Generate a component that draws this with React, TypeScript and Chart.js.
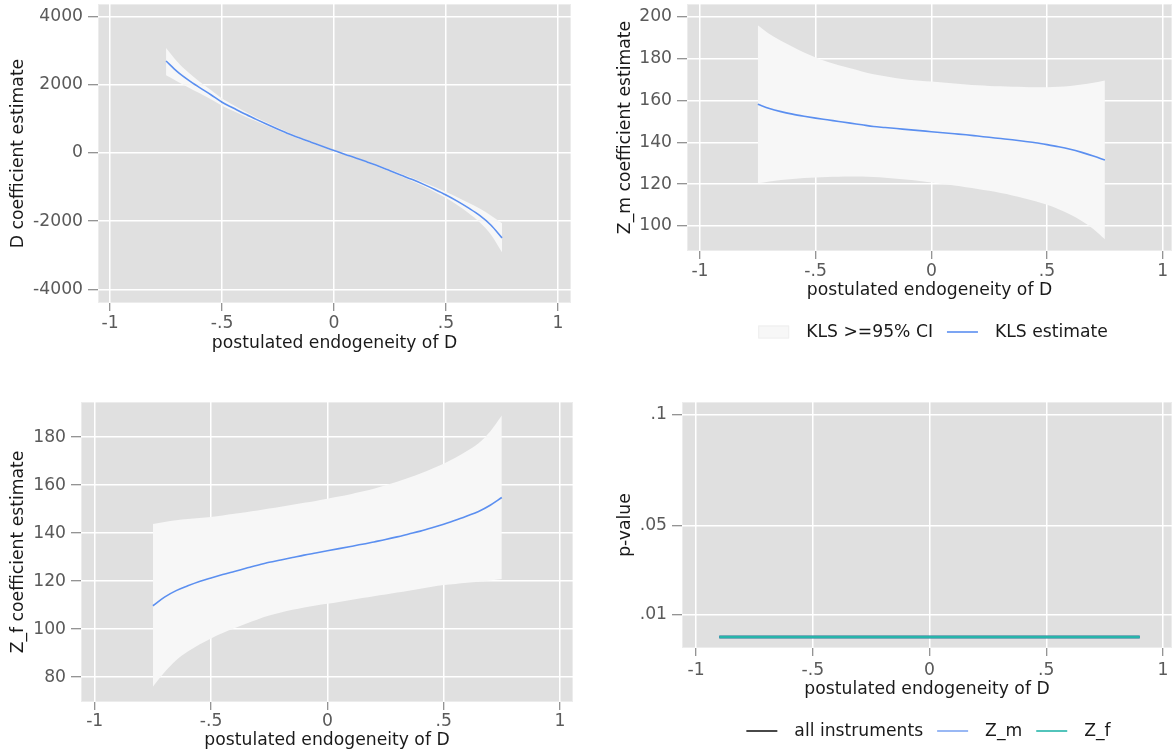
import React, { useEffect, useRef } from 'react';
import { Chart, registerables } from 'chart.js';

Chart.register(...registerables);

const FONT = "'DejaVu Sans', 'Liberation Sans', sans-serif";
const FS = 17.2;
const HALF_LH = FS * 0.6;
const TICK_COLOR = '#5a5a5a';
const TITLE_COLOR = '#1a1a1a';
const BLUE = '#5b8ff0';
const TEAL = '#26b5aa';
const CI_FILL = '#f7f7f7';

// ---------- data ----------
const rhoGrid = [
  -0.75, -0.7, -0.65, -0.6, -0.55, -0.5, -0.45, -0.4, -0.35, -0.3, -0.25, -0.2, -0.15, -0.1, -0.05,
  0, 0.05, 0.1, 0.15, 0.2, 0.25, 0.3, 0.35, 0.4, 0.45, 0.5, 0.55, 0.6, 0.65, 0.7, 0.75,
];

const dEstimate = [
  2700, 2390, 2140, 1920, 1710, 1490, 1320, 1150, 995, 845, 700, 560, 430, 310, 190,
  75, -40, -150, -270, -390, -520, -650, -780, -920, -1070, -1230, -1410, -1610, -1830, -2110, -2490,
];
const dUpper = [
  3080, 2680, 2360, 2090, 1850, 1600, 1410, 1222, 1053, 892, 738, 591, 456, 332, 209,
  92, -23, -132, -250, -366, -491, -614, -735, -863, -998, -1140, -1295, -1460, -1630, -1830, -2060,
];
const dLower = [
  2280, 2100, 1920, 1750, 1575, 1385, 1232, 1080, 938, 799, 662, 529, 404, 288, 171,
  58, -57, -168, -290, -414, -549, -686, -825, -977, -1142, -1320, -1525, -1760, -2030, -2390, -2910,
];

const zmEstimate = [
  158.2, 156.2, 154.7, 153.5, 152.5, 151.6, 150.8, 150.0, 149.2, 148.4, 147.6, 147.1, 146.6, 146.1, 145.6,
  145.1, 144.6, 144.1, 143.6, 143.0, 142.4, 141.8, 141.2, 140.5, 139.8, 138.9, 137.9, 136.7, 135.2, 133.5, 131.5,
];
const zmUpper = [
  196.0, 191.8, 188.6, 185.8, 183.0, 180.6, 178.6, 176.9, 175.4, 173.9, 172.6, 171.6, 170.7, 170.0, 169.5,
  169.1, 168.6, 168.1, 167.7, 167.3, 167.0, 166.8, 166.6, 166.5, 166.4, 166.4, 166.6, 167.0, 167.7, 168.5, 169.6,
];
const zmLower = [
  120.4, 121.3, 122.0, 122.5, 122.9, 123.2, 123.4, 123.5, 123.6, 123.6, 123.4, 123.1, 122.6, 122.1, 121.5,
  120.8, 120.1, 119.3, 118.5, 117.7, 116.8, 115.7, 114.6, 113.3, 111.8, 110.1, 108.0, 105.5, 102.4, 98.5, 93.6,
];

const zfEstimate = [
  109.7, 113.3, 116.0, 118.0, 119.8, 121.3, 122.7, 124.0, 125.3, 126.6, 127.8, 128.8, 129.8, 130.8, 131.7,
  132.6, 133.5, 134.4, 135.3, 136.3, 137.3, 138.4, 139.6, 140.8, 142.2, 143.7, 145.3, 147.1, 149.0, 151.6, 154.8,
];
const zfUpper = [
  143.8, 144.6, 145.3, 145.8, 146.3, 146.7, 147.3, 148.0, 148.7, 149.4, 150.2, 151.0, 151.8, 152.6, 153.4,
  154.3, 155.2, 156.2, 157.3, 158.5, 159.9, 161.4, 163.0, 164.8, 166.8, 168.9, 171.4, 174.2, 177.4, 182.3, 189.0,
];
const zfLower = [
  76.0, 82.0, 87.0, 90.6, 93.6, 96.1, 98.3, 100.3, 102.2, 104.0, 105.6, 106.9, 108.0, 109.0, 109.8,
  110.5, 111.3, 112.1, 112.9, 113.7, 114.4, 115.2, 116.0, 116.8, 117.6, 118.3, 118.8, 119.3, 119.7, 120.2, 120.8,
];

const pRho = [-0.9, -0.6, -0.3, 0, 0.3, 0.6, 0.9];
const pAllInstruments = [0.0001, 0.0001, 0.0001, 0.0001, 0.0001, 0.0001, 0.0001];
const pZm = [0.0001, 0.0001, 0.0001, 0.0001, 0.0001, 0.0001, 0.0001];
const pZf = [0.0001, 0.0001, 0.0001, 0.0001, 0.0001, 0.0001, 0.0001];

const xTickValues = [-1, -0.5, 0, 0.5, 1];
const xTickLabels = ['-1', '-.5', '0', '.5', '1'];
const dTickValues = [-4000, -2000, 0, 2000, 4000];
const dTickLabels = ['-4000', '-2000', '0', '2000', '4000'];
const zmTickValues = [100, 120, 140, 160, 180, 200];
const zmTickLabels = ['100', '120', '140', '160', '180', '200'];
const zfTickValues = [80, 100, 120, 140, 160, 180];
const zfTickLabels = ['80', '100', '120', '140', '160', '180'];
const pTickValues = [0.01, 0.05, 0.1];
const pTickLabels = ['.01', '.05', '.1'];

const xTitle = 'postulated endogeneity of D';

// ---------- helpers ----------
const pts = (xs: number[], ys: number[]) => xs.map((x, i) => ({ x, y: ys[i] }));

const bgPlugin = {
  id: 'plotRegion',
  beforeDraw(chart: any) {
    const { ctx, chartArea: a } = chart;
    ctx.save();
    ctx.fillStyle = '#e0e0e0';
    ctx.fillRect(a.left, a.top, a.right - a.left, a.bottom - a.top);
    ctx.strokeStyle = '#ececec';
    ctx.lineWidth = 1;
    ctx.strokeRect(a.left + 0.5, a.top + 0.5, a.right - a.left - 1, a.bottom - a.top - 1);
    ctx.restore();
  },
};

const legendPlugin = {
  id: 'stataLegend',
  afterDraw(chart: any, _args: any, opts: any) {
    if (!opts || !opts.items || !opts.items.length) return;
    const ctx = chart.ctx;
    ctx.save();
    ctx.font = `${FS}px ${FONT}`;
    const sw = 31;
    const gapText = 17;
    const gapItem = 14;
    const items = opts.items;
    const widths = items.map((it: any) => sw + gapText + ctx.measureText(it.label).width);
    const total = widths.reduce((s: number, w: number) => s + w, 0) + gapItem * (items.length - 1);
    let x = opts.centerX - total / 2;
    const y = opts.y;
    items.forEach((it: any, i: number) => {
      if (it.kind === 'box') {
        ctx.fillStyle = it.color;
        ctx.fillRect(x, y - 6.5, sw, 13);
        ctx.strokeStyle = '#eeeeee';
        ctx.lineWidth = 1;
        ctx.strokeRect(x + 0.5, y - 6, sw - 1, 12);
      } else {
        ctx.strokeStyle = it.color;
        ctx.lineWidth = it.width;
        ctx.beginPath();
        ctx.moveTo(x, y);
        ctx.lineTo(x + sw, y);
        ctx.stroke();
      }
      ctx.fillStyle = TITLE_COLOR;
      ctx.textBaseline = 'middle';
      ctx.textAlign = 'left';
      ctx.fillText(it.label, x + sw + gapText, y + 1);
      x += widths[i] + gapItem;
    });
    ctx.restore();
  },
};

type Spec = {
  left: number;
  top: number;
  width: number;
  height: number;
  area: { left: number; top: number; right: number; bottom: number };
  xMin: number;
  xMax: number;
  yMin: number;
  yMax: number;
  yTicks: number[];
  yLabels: string[];
  yTitle: string;
  yTitleCenter: number;
  xTitleCenter: number;
  xLabelPad: number;
  datasets: any[];
  legend?: { items: any[]; centerX: number; y: number };
};

function ciDatasets(est: number[], up: number[], lo: number[]) {
  return [
    {
      data: pts(rhoGrid, up),
      borderWidth: 0,
      borderColor: 'rgba(0,0,0,0)',
      backgroundColor: CI_FILL,
      pointRadius: 0,
      fill: '+1',
      cubicInterpolationMode: 'monotone',
      order: 2,
    },
    {
      data: pts(rhoGrid, lo),
      borderWidth: 0,
      borderColor: 'rgba(0,0,0,0)',
      pointRadius: 0,
      fill: false,
      cubicInterpolationMode: 'monotone',
      order: 3,
    },
    {
      data: pts(rhoGrid, est),
      borderColor: BLUE,
      borderWidth: 1.6,
      pointRadius: 0,
      fill: false,
      cubicInterpolationMode: 'monotone',
      order: 1,
    },
  ];
}

const specs: Spec[] = [
  {
    left: 0, top: 0, width: 586, height: 375,
    area: { left: 98, top: 4, right: 571, bottom: 303 },
    xMin: -1.054, xMax: 1.058, yMin: -4400, yMax: 4372,
    yTicks: dTickValues, yLabels: dTickLabels,
    yTitle: 'D coefficient estimate', yTitleCenter: 19, xTitleCenter: 344, xLabelPad: 2.5,
    datasets: ciDatasets(dEstimate, dUpper, dLower),
  },
  {
    left: 586, top: 0, width: 586, height: 375,
    area: { left: 101, top: 4, right: 586, bottom: 251 },
    xMin: -1.056, xMax: 1.04, yMin: 88, yMax: 206.2,
    yTicks: zmTickValues, yLabels: zmTickLabels,
    yTitle: 'Z_m coefficient estimate', yTitleCenter: 40, xTitleCenter: 291, xLabelPad: 2,
    datasets: ciDatasets(zmEstimate, zmUpper, zmLower),
    legend: {
      centerX: 347, y: 332,
      items: [
        { kind: 'box', color: CI_FILL, label: 'KLS >=95% CI' },
        { kind: 'line', color: BLUE, width: 1.6, label: 'KLS estimate' },
      ],
    },
  },
  {
    left: 0, top: 375, width: 586, height: 376,
    area: { left: 81, top: 27, right: 573, bottom: 327 },
    xMin: -1.059, xMax: 1.056, yMin: 69.6, yMax: 194.6,
    yTicks: zfTickValues, yLabels: zfTickLabels,
    yTitle: 'Z_f coefficient estimate', yTitleCenter: 19, xTitleCenter: 366, xLabelPad: 1,
    datasets: ciDatasets(zfEstimate, zfUpper, zfLower),
  },
  {
    left: 586, top: 375, width: 586, height: 376,
    area: { left: 96, top: 27, right: 586, bottom: 273 },
    xMin: -1.06, xMax: 1.0385, yMin: -0.0049, yMax: 0.1058,
    yTicks: pTickValues, yLabels: pTickLabels,
    yTitle: 'p-value', yTitleCenter: 40, xTitleCenter: 315, xLabelPad: 4,
    datasets: [
      { data: pts(pRho, pAllInstruments), borderColor: '#1a1a1a', borderWidth: 2.5, pointRadius: 0, fill: false, order: 3 },
      { data: pts(pRho, pZm), borderColor: BLUE, borderWidth: 2.5, pointRadius: 0, fill: false, order: 2 },
      { data: pts(pRho, pZf), borderColor: TEAL, borderWidth: 2.5, pointRadius: 0, fill: false, order: 1 },
    ],
    legend: {
      centerX: 342.5, y: 356,
      items: [
        { kind: 'line', color: '#1a1a1a', width: 1.6, label: 'all instruments' },
        { kind: 'line', color: '#7fa6f2', width: 1.6, label: 'Z_m' },
        { kind: 'line', color: TEAL, width: 1.6, label: 'Z_f' },
      ],
    },
  },
];

function buildConfig(s: Spec): any {
  const yAxisW = s.area.left;
  const xAxisH = s.height - s.area.bottom;
  const tickFont = { family: FONT, size: FS };
  return {
    type: 'line',
    data: { datasets: s.datasets },
    plugins: [bgPlugin, legendPlugin],
    options: {
      responsive: false,
      animation: false,
      events: [],
      layout: { padding: { top: s.area.top, right: s.width - s.area.right, bottom: 0, left: 0 } },
      elements: { line: { tension: 0 } },
      plugins: {
        legend: { display: false },
        tooltip: { enabled: false },
        title: { display: false },
        stataLegend: s.legend ? { items: s.legend.items, centerX: s.legend.centerX, y: s.legend.y } : { items: [] },
      },
      scales: {
        x: {
          type: 'linear',
          min: s.xMin,
          max: s.xMax,
          afterBuildTicks: (sc: any) => {
            sc.ticks = xTickValues.map((v) => ({ value: v }));
          },
          afterFit: (sc: any) => {
            sc.height = xAxisH;
            sc.paddingLeft = 0;
            sc.paddingRight = 0;
            sc.paddingTop = 0;
            sc.paddingBottom = 0;
          },
          ticks: {
            callback: (_v: any, i: number) => xTickLabels[i],
            color: TICK_COLOR,
            font: tickFont,
            padding: s.xLabelPad,
            maxRotation: 0,
            minRotation: 0,
            autoSkip: false,
          },
          grid: {
            color: '#ffffff',
            lineWidth: 1.5,
            drawTicks: true,
            tickLength: 8,
            tickColor: '#707070',
            tickWidth: 1,
          },
          border: { display: false },
          title: {
            display: true,
            text: xTitle,
            color: TITLE_COLOR,
            font: { family: FONT, size: FS },
            padding: { top: 0, bottom: s.height - s.xTitleCenter - HALF_LH },
          },
        },
        y: {
          type: 'linear',
          min: s.yMin,
          max: s.yMax,
          afterBuildTicks: (sc: any) => {
            sc.ticks = s.yTicks.map((v) => ({ value: v }));
          },
          afterFit: (sc: any) => {
            sc.width = yAxisW;
            sc.paddingLeft = 0;
            sc.paddingRight = 0;
            sc.paddingTop = 0;
            sc.paddingBottom = 0;
          },
          ticks: {
            callback: (_v: any, i: number) => s.yLabels[i],
            color: TICK_COLOR,
            font: tickFont,
            padding: 5,
            autoSkip: false,
          },
          grid: {
            color: '#ffffff',
            lineWidth: 1.5,
            drawTicks: true,
            tickLength: 10,
            tickColor: '#707070',
            tickWidth: 1,
          },
          border: { display: false },
          title: {
            display: true,
            text: s.yTitle,
            color: TITLE_COLOR,
            font: { family: FONT, size: FS },
            padding: { top: s.yTitleCenter - HALF_LH, bottom: 0 },
          },
        },
      },
    },
  };
}

function Panel({ spec }: { spec: Spec }) {
  const ref = useRef<HTMLCanvasElement>(null);
  useEffect(() => {
    if (!ref.current) return;
    const chart = new Chart(ref.current, buildConfig(spec));
    return () => chart.destroy();
  }, [spec]);
  return (
    <canvas
      ref={ref}
      width={spec.width}
      height={spec.height}
      style={{ position: 'absolute', left: spec.left, top: spec.top, width: spec.width, height: spec.height }}
    />
  );
}

export default function App() {
  return (
    <div style={{ position: 'absolute', left: 0, top: 0, width: 1172, height: 751, background: '#ffffff', overflow: 'hidden' }}>
      {specs.map((s, i) => (
        <Panel key={i} spec={s} />
      ))}
    </div>
  );
}
